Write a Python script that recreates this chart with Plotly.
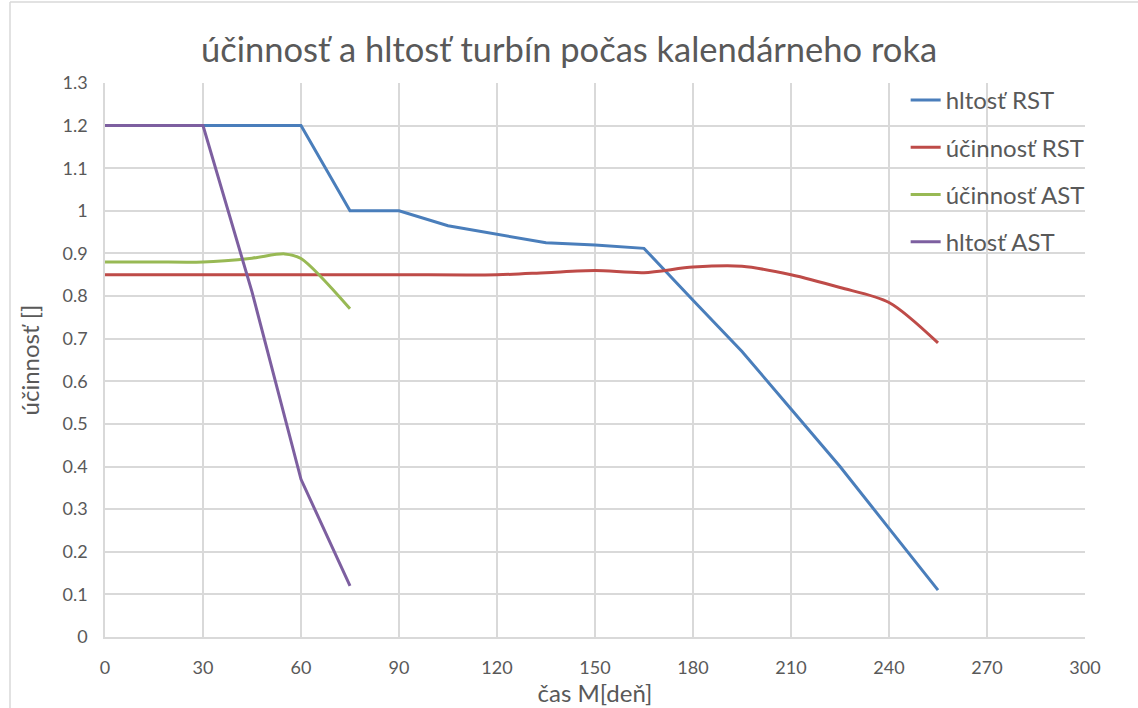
import plotly.graph_objects as go

# hltosť RST
x_hrst = [0, 30, 60, 75, 90, 105, 120, 135, 150, 165, 180, 195, 210, 225, 240, 255]
y_hrst = [1.2, 1.2, 1.2, 1.0, 1.0, 0.965, 0.945, 0.925, 0.92, 0.912, 0.79, 0.67, 0.535, 0.40, 0.255, 0.11]
# účinnosť RST
x_urst = [0, 30, 60, 90, 120, 135, 150, 165, 180, 195, 210, 225, 240, 255]
y_urst = [0.85, 0.85, 0.85, 0.85, 0.85, 0.855, 0.86, 0.855, 0.868, 0.87, 0.85, 0.82, 0.785, 0.69]
# účinnosť AST
x_uast = [0, 15, 30, 45, 55, 60, 75]
y_uast = [0.88, 0.88, 0.88, 0.889, 0.899, 0.888, 0.77]
# hltosť AST
x_hast = [0, 30, 45, 60, 75]
y_hast = [1.2, 1.2, 0.81, 0.37, 0.12]

x_ticks = [0, 30, 60, 90, 120, 150, 180, 210, 240, 270, 300]
y_ticks = [0, 0.1, 0.2, 0.3, 0.4, 0.5, 0.6, 0.7, 0.8, 0.9, 1.0, 1.1, 1.2, 1.3]

FONT = "Lato"
GRAY = "#595959"

fig = go.Figure()
series = [
    ("hltosť RST", x_hrst, y_hrst, "#4a7ebb", "linear"),
    ("účinnosť RST", x_urst, y_urst, "#be4b48", "spline"),
    ("účinnosť AST", x_uast, y_uast, "#98b954", "spline"),
    ("hltosť AST", x_hast, y_hast, "#7d5fa0", "linear"),
]
for i, (name, xs, ys, col, shp) in enumerate(series):
    line = dict(color=col, width=3, shape=shp)
    if shp == "spline":
        line["smoothing"] = 0.8
    fig.add_trace(go.Scatter(
        x=xs, y=ys, name=name, mode="lines", legendgroup=f"g{i}", line=line,
    ))

fig.update_layout(
    width=1138, height=708,
    margin=dict(l=105, r=53, t=83, b=71),
    paper_bgcolor="white", plot_bgcolor="white",
    font=dict(family=FONT, color=GRAY),
    title=dict(text="účinnosť a hltosť turbín počas kalendárneho roka",
               x=0.5, xanchor="center", y=1 - 50 / 708, yanchor="middle",
               font=dict(size=34.5, color=GRAY, family=FONT)),
    legend=dict(x=0.817, y=1.009, xanchor="left", yanchor="top",
                bgcolor="rgba(0,0,0,0)", font=dict(size=24, color=GRAY),
                tracegroupgap=13),
    showlegend=True,
)
fig.update_xaxes(
    range=[0, 300], tickvals=x_ticks, ticktext=[str(v) for v in x_ticks],
    showgrid=True, gridcolor="#d9d9d9", gridwidth=1.5,
    showline=True, linecolor="#d9d9d9", linewidth=1.5,
    zeroline=False, ticks="", tickfont=dict(size=18, color=GRAY),
    ticklabelstandoff=14,
    title=dict(text="čas M[deň]", font=dict(size=24, color=GRAY), standoff=2),
)
fig.update_yaxes(
    range=[0, 1.3], tickvals=y_ticks, ticktext=[f"{v:g}" for v in y_ticks],
    showgrid=True, gridcolor="#d9d9d9", gridwidth=1.5,
    showline=True, linecolor="#d9d9d9", linewidth=1.5,
    zeroline=False, ticks="", tickfont=dict(size=18, color=GRAY),
    ticklabelstandoff=12,
    title=dict(text="účinnosť []", font=dict(size=24, color=GRAY), standoff=16),
)
# outer chart border (left & top)
bx = (10 - 105) / 980
by = (637 - 2) / 554
fig.add_shape(type="line", xref="paper", yref="paper",
              x0=bx, x1=bx, y0=-0.2, y1=by,
              line=dict(color="#d9d9d9", width=1.5))
fig.add_shape(type="line", xref="paper", yref="paper",
              x0=bx, x1=1.1, y0=by, y1=by,
              line=dict(color="#d9d9d9", width=1.5))

fig.write_html("out.html", config={"displayModeBar": False},
               post_script="document.body.style.margin='0';")
